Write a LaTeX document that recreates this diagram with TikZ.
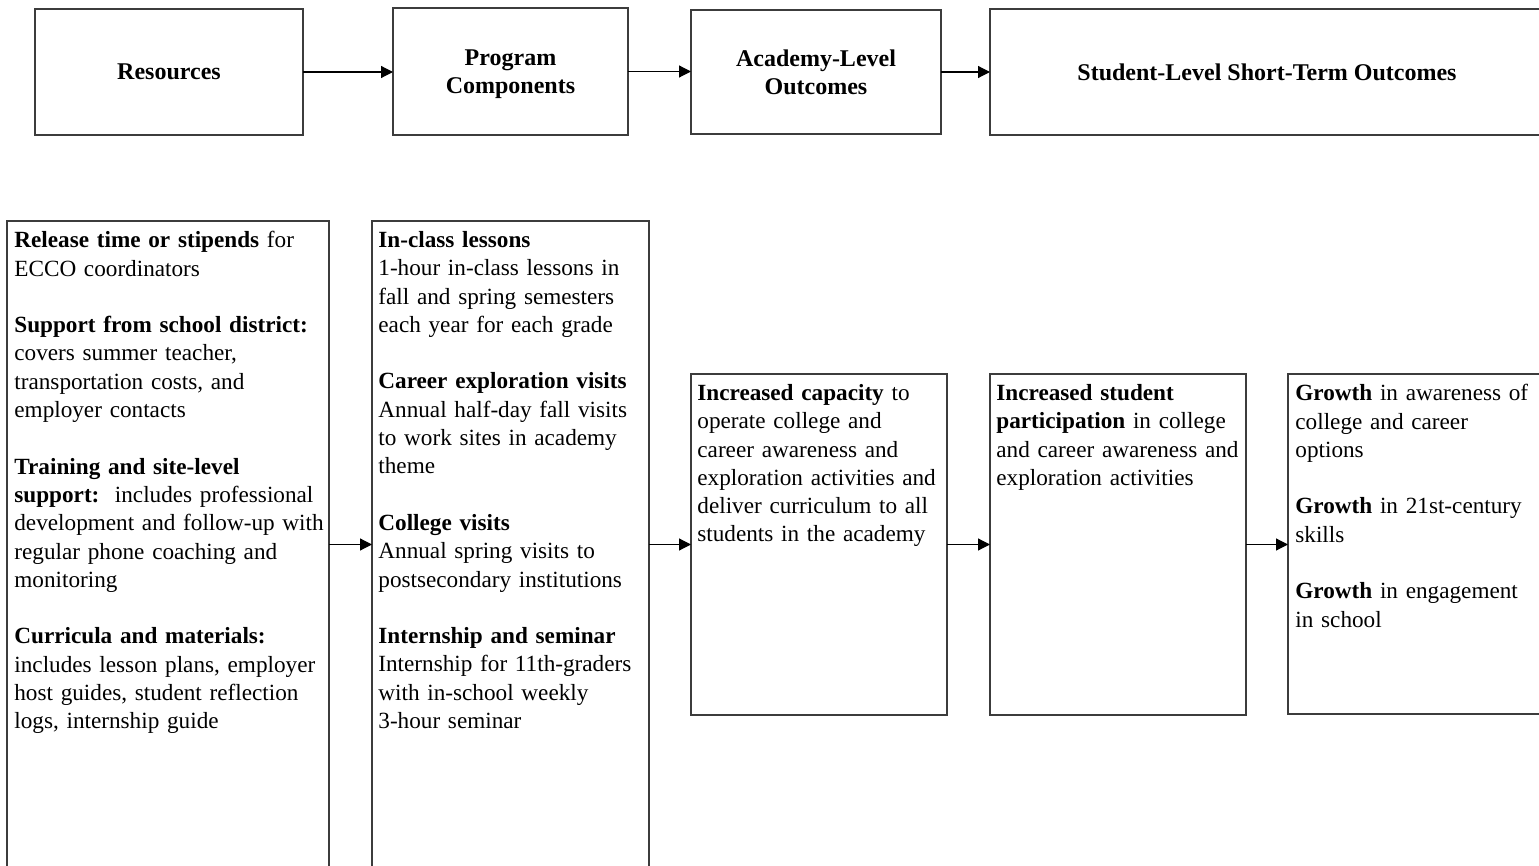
\documentclass[tikz,border=0pt]{standalone}
\usepackage{fontspec}
\setmainfont{Liberation Serif}
\usetikzlibrary{arrows.meta}
\definecolor{boxgray}{RGB}{60,60,60}
\begin{document}
\begin{tikzpicture}[x=0.5pt,y=-0.5pt,
  box/.style={draw=boxgray, line width=0.65pt, inner sep=0pt, outer sep=0pt},
  head/.style={font=\bfseries\fontsize{12}{14}\selectfont, align=center},
  body/.style={anchor=north west, inner sep=0pt, align=left, text width=170pt,
    font=\fontsize{11.6}{14.15}\selectfont,
    execute at begin node={\setlength{\parskip}{14.15pt}}},
  arr/.style={-{Triangle[length=6pt,width=6pt]}, line width=0.6pt, draw=black},
]
\useasboundingbox (0,0) rectangle (1539,866);

% top row
\node[box, head, minimum width=134pt, minimum height=63pt] (t1) at (169,72) {Resources};
\node[box, head, minimum width=117.5pt, minimum height=63.5pt] (t2) at (510.5,71.5) {\rule{0pt}{11pt}Program\\Components};
\node[box, head, minimum width=125pt, minimum height=62pt] (t3) at (816,72) {Academy-Level\\Outcomes};
\node[box, head, minimum width=277pt, minimum height=63pt] (t4) at (1267,72) {Student-Level Short-Term Outcomes};

\draw[arr] (t1.east) -- (t1.east -| t2.west);
\draw[arr] (t2.east) -- (t2.east -| t3.west);
\draw[arr] (t3.east) -- (t3.east -| t4.west);

% bottom row
\node[box, minimum width=161pt, minimum height=323.5pt] (b1) at (168,544.5) {};
\node[box, minimum width=138.5pt, minimum height=323.5pt] (b2) at (510.5,544.5) {};
\node[box, minimum width=128pt, minimum height=170.5pt] (b3) at (819,544.5) {};
\node[box, minimum width=128pt, minimum height=170.5pt] (b4) at (1118,544.5) {};
\node[box, minimum width=129pt, minimum height=170pt] (b5) at (1417,544) {};

\draw[arr] (b1.east) -- (b1.east -| b2.west);
\draw[arr] (b2.east) -- (b2.east -| b3.west);
\draw[arr] (b3.east) -- (b3.east -| b4.west);
\draw[arr] (b4.east) -- (b4.east -| b5.west);

\node[body] (tx1) at (14,231) {\textbf{Release time or stipends} for\\ECCO coordinators\par
\textbf{Support from school district:}\\covers summer teacher,\\transportation costs, and\\employer contacts\par
\textbf{Training and site-level}\\\textbf{support:}\ \ includes professional\\development and follow-up with\\regular phone coaching and\\monitoring\par
\textbf{Curricula and materials:}\\includes lesson plans, employer\\host guides, student reflection\\logs, internship guide};

\node[body] (tx2) at (378,231) {\textbf{In-class lessons}\\1-hour in-class lessons in\\fall and spring semesters\\each year for each grade\par
\textbf{Career exploration visits}\\Annual half-day fall visits\\to work sites in academy\\theme\par
\textbf{College visits}\\Annual spring visits to\\postsecondary institutions\par
\textbf{Internship and seminar}\\Internship for 11th-graders\\with in-school weekly\\3-hour seminar};

\node[body] (tx3) at (697,384) {\textbf{Increased capacity} to\\operate college and\\career awareness and\\exploration activities and\\deliver curriculum to all\\students in the academy};

\node[body] (tx4) at (996,384) {\textbf{Increased student}\\\textbf{participation} in college\\and career awareness and\\exploration activities};

\node[body] (tx5) at (1295,384) {\textbf{Growth} in awareness of\\college and career\\options\par
\textbf{Growth} in 21st-century\\skills\par
\textbf{Growth} in engagement\\in school};
\end{tikzpicture}
\end{document}
